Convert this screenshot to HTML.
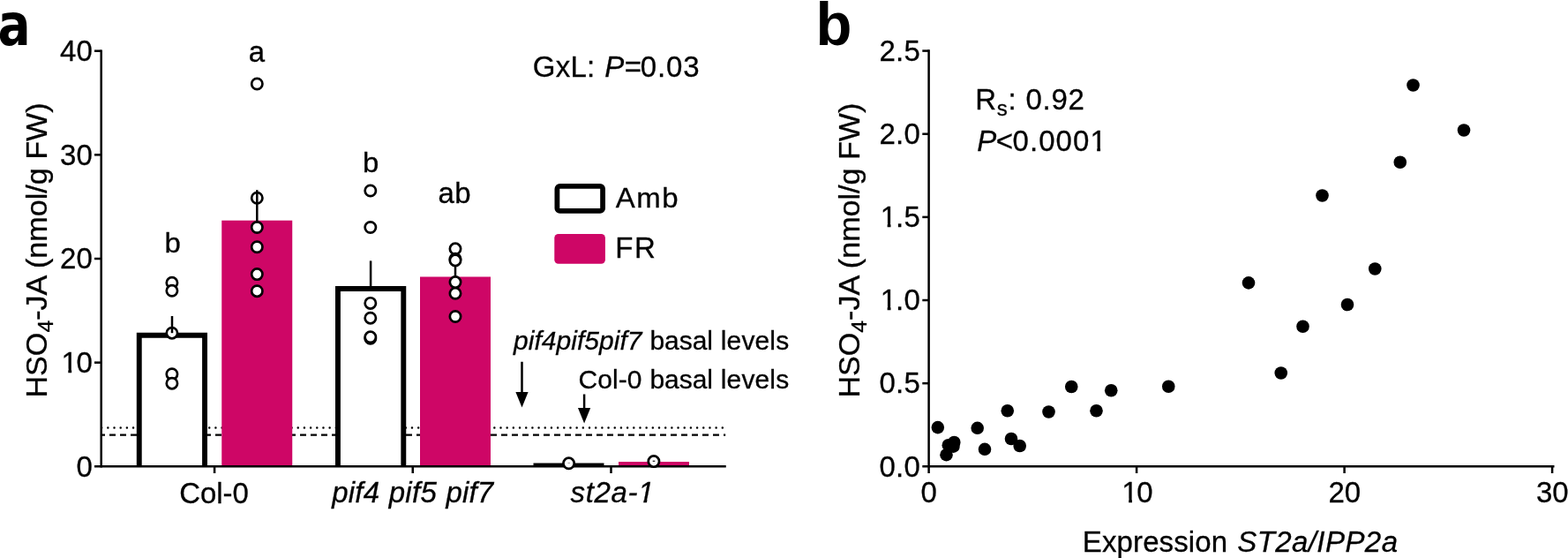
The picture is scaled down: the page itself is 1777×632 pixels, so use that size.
<!DOCTYPE html>
<html lang="en"><head><meta charset="utf-8"><title>HSO4-JA figure</title>
<style>
html,body{margin:0;padding:0;background:#fff;}
body{width:1777px;height:632px;overflow:hidden;}
svg{display:block;}
text{font-family:"Liberation Sans",sans-serif;fill:#000;stroke:#000;stroke-width:0.3px;}
.i{font-style:italic;}
.b{font-weight:bold;stroke:none;}
.b2{font-family:"DejaVu Sans Condensed","DejaVu Sans",sans-serif;font-weight:bold;stroke:none;}
.ax{stroke:#000;stroke-width:2.5;fill:none;}
.pt{fill:#fff;stroke:#000;stroke-width:2.7;}
.dot{fill:#000;}
</style></head><body>
<svg width="1777" height="632" viewBox="0 0 1777 632">
<rect width="1777" height="632" fill="#fff"/>
<line x1="115.16" y1="484.4" x2="819.5" y2="484.4" stroke="#000" stroke-width="2.5" stroke-linecap="round" stroke-dasharray="0.01 7.17"/>
<line x1="114.7" y1="492.6" x2="822.2" y2="492.6" stroke="#000" stroke-width="2.4" stroke-dasharray="7 5" stroke-dashoffset="2.7"/>
<path d="M157.75 528.3 V379.7 H232.05 V528.3" fill="#fff" stroke="#000" stroke-width="5.9" stroke-linejoin="miter"/>
<rect x="251.25" y="249.7" width="80.0" height="278.6" fill="#ce0666"/>
<path d="M382.95 528.3 V326.95 H457.3 V528.3" fill="#fff" stroke="#000" stroke-width="5.9" stroke-linejoin="miter"/>
<rect x="476" y="313.5" width="80" height="214.8" fill="#ce0666"/>
<rect x="604.5" y="524.5" width="80" height="3" fill="#000"/>
<rect x="701" y="523" width="80" height="4.5" fill="#ce0666"/>
<path d="M114.7 56.45 V529.55" class="ax"/>
<path d="M107 528.3 H822.75" class="ax"/>
<path d="M107 410.65 H114.7" class="ax" stroke-width="2.1"/>
<path d="M107 293.0 H114.7" class="ax" stroke-width="2.1"/>
<path d="M107 175.35 H114.7" class="ax" stroke-width="2.1"/>
<path d="M107 57.7 H114.7" class="ax" stroke-width="2.1"/>
<path d="M243.1 528.3 V536" class="ax" stroke-width="2.1"/>
<path d="M467.75 528.3 V536" class="ax" stroke-width="2.1"/>
<path d="M692.5 528.3 V536" class="ax" stroke-width="2.1"/>
<text transform="translate(104.8 539.55) scale(1 0.985)" font-size="33" text-anchor="end">0</text>
<text transform="translate(104.8 421.9) scale(1 0.985)" font-size="33" text-anchor="end"><tspan letter-spacing="-1.4">1</tspan>0</text>
<polygon transform="translate(104.8 421.9) scale(1 0.985)" points="-34.3,2.5 -34.3,-4.28 -27.48,-4.28 -27.48,2.5" fill="#fff"/>
<polygon transform="translate(104.8 421.9) scale(1 0.985)" points="-23.64,2.5 -23.64,-4.28 -17.08,-4.28 -17.08,2.5" fill="#fff"/>
<text transform="translate(104.8 304.25) scale(1 0.985)" font-size="33" text-anchor="end">20</text>
<text transform="translate(104.8 186.6) scale(1 0.985)" font-size="33" text-anchor="end">30</text>
<text transform="translate(104.8 68.95) scale(1 0.985)" font-size="33" text-anchor="end">40</text>
<circle cx="194.9" cy="320.3" r="6.15" class="pt"/>
<circle cx="194.9" cy="329.3" r="6.15" class="pt"/>
<circle cx="194.9" cy="377.2" r="6.15" class="pt"/>
<circle cx="194.9" cy="423.7" r="6.15" class="pt"/>
<circle cx="194.9" cy="434.2" r="6.15" class="pt"/>
<circle cx="291.3" cy="95" r="6.15" class="pt"/>
<circle cx="291.3" cy="224.25" r="6.15" class="pt"/>
<circle cx="291.3" cy="257.5" r="6.15" class="pt"/>
<circle cx="291.3" cy="279.75" r="6.15" class="pt"/>
<circle cx="291.3" cy="310.6" r="6.15" class="pt"/>
<circle cx="291.3" cy="329.7" r="6.15" class="pt"/>
<circle cx="419.8" cy="216" r="6.15" class="pt"/>
<circle cx="419.8" cy="257.5" r="6.15" class="pt"/>
<circle cx="419.8" cy="343.4" r="6.15" class="pt"/>
<circle cx="419.8" cy="360.2" r="6.15" class="pt"/>
<circle cx="419.8" cy="383.3" r="6.15" class="pt"/>
<circle cx="419.8" cy="381.8" r="6.15" class="pt"/>
<circle cx="516" cy="281.8" r="6.15" class="pt"/>
<circle cx="516" cy="293.3" r="6.15" class="pt"/>
<circle cx="516" cy="294.9" r="6.15" class="pt"/>
<circle cx="516" cy="319.6" r="6.15" class="pt"/>
<circle cx="516" cy="332.3" r="6.15" class="pt"/>
<circle cx="516" cy="358.5" r="6.15" class="pt"/>
<circle cx="644.6" cy="524.8" r="6.15" class="pt"/>
<circle cx="740.9" cy="522.6" r="6.15" class="pt"/>
<line x1="195" y1="358" x2="195" y2="377.2" class="ax" stroke-width="2.7"/>
<line x1="291.3" y1="215.2" x2="291.3" y2="250" class="ax" stroke-width="2.7"/>
<line x1="420.1" y1="295.4" x2="420.1" y2="325" class="ax" stroke-width="2.7"/>
<line x1="516" y1="301.5" x2="516" y2="314" class="ax" stroke-width="2.7"/>
<rect x="739.7" y="521.7" width="2.6" height="1.1" fill="#000"/>
<rect x="643.4" y="523.9" width="2.6" height="0.9" fill="#999"/>
<text transform="translate(186.62 286.43) scale(1 0.9742)" font-size="33" text-anchor="start">b</text>
<text transform="translate(281.64 70.16) scale(1 1.0181)" font-size="33" text-anchor="start">a</text>
<text transform="translate(411.12 194.78) scale(1 0.9726)" font-size="33" text-anchor="start">b</text>
<text transform="translate(496.5 229.52) scale(1 0.9828)" font-size="33" text-anchor="start" letter-spacing="0.5">ab</text>
<text transform="translate(203.25 569.76) scale(1 1.009)" font-size="33" text-anchor="start" letter-spacing="-0.042">Col-0</text>
<text transform="translate(0 568.88) scale(1 0.9892)" font-size="33"><tspan x="376.2" class="i" letter-spacing="0.233">pif4 </tspan><tspan x="440.7" class="i" letter-spacing="0.317">pif5 </tspan><tspan x="505.45" class="i" letter-spacing="0.13">pif7</tspan></text>
<text transform="translate(646.5 568.7) scale(1 1.0323)" font-size="33" text-anchor="start" class="i" letter-spacing="0.65">st2a-1</text>
<polygon transform="translate(646.5 568.7) scale(1 1.0323)" points="75.44,2.5 76.75,-4.28 83.59,-4.28 82.28,2.5" fill="#fff"/>
<polygon transform="translate(646.5 568.7) scale(1 1.0323)" points="86.07,2.5 87.38,-4.28 93.97,-4.28 92.66,2.5" fill="#fff"/>
<text transform="translate(53 283.5) scale(1 1.034) rotate(-90)" font-size="33" text-anchor="middle" letter-spacing="0">HSO<tspan font-size="24" dy="7.3">4</tspan><tspan dy="-7.3">-JA (nmol/g FW)</tspan></text>
<text transform="translate(0 87.1) scale(1 1.034)" font-size="33"><tspan x="603.8" letter-spacing="0.28">GxL: </tspan><tspan x="685.28" class="i" letter-spacing="0">P</tspan><tspan x="707.65" letter-spacing="0">=</tspan><tspan x="725.7" letter-spacing="0.866">0.03</tspan></text>
<rect x="631.4" y="210.9" width="51.7" height="28" rx="3" ry="3" fill="#fff" stroke="#000" stroke-width="5.8"/>
<rect x="628.3" y="265" width="57.6" height="33.75" rx="4.5" ry="4.5" fill="#ce0666"/>
<text transform="translate(697.85 235.33) scale(1 0.9566)" font-size="33" text-anchor="start" letter-spacing="1.5">Amb</text>
<text transform="translate(697.25 291.9) scale(1 1.0296)" font-size="33" text-anchor="start" letter-spacing="1.5">FR</text>
<text transform="translate(0 396.32) scale(1 0.9695)" font-size="30"><tspan x="582.0" class="i" letter-spacing="0.043">pif4pif5pif7 </tspan><tspan x="736.4" letter-spacing="-0.016">basal </tspan><tspan x="816.8" letter-spacing="0.14">levels</tspan></text>
<text transform="translate(0 440.12) scale(1 0.9827)" font-size="30"><tspan x="655.6" letter-spacing="0.029">Col-0 </tspan><tspan x="736.4" letter-spacing="-0.016">basal </tspan><tspan x="816.8" letter-spacing="0.14">levels</tspan></text>
<path d="M591.5 409.75 V451.5" class="ax"/>
<path d="M584.4 444.0 H598.6 L591.5 461.5 Z" fill="#000"/>
<path d="M662.1 446.5 V469.4" class="ax"/>
<path d="M655.0 461.9 H669.2 L662.1 479.4 Z" fill="#000"/>
<text transform="translate(-2.4 51.2) scale(0.94 1.0)" font-size="65" text-anchor="start" class="b2">a</text>
<path d="M1052.6 56.35 V536" class="ax"/>
<path d="M1045.3 528.3 H1761.5" class="ax"/>
<path d="M1045.3 434.16 H1052.6" class="ax" stroke-width="2.1"/>
<path d="M1045.3 340.02 H1052.6" class="ax" stroke-width="2.1"/>
<path d="M1045.3 245.88 H1052.6" class="ax" stroke-width="2.1"/>
<path d="M1045.3 151.74 H1052.6" class="ax" stroke-width="2.1"/>
<path d="M1045.3 57.6 H1052.6" class="ax" stroke-width="2.1"/>
<path d="M1288.1 528.3 V536" class="ax" stroke-width="2.1"/>
<path d="M1523.6 528.3 V536" class="ax" stroke-width="2.1"/>
<path d="M1759.1 528.3 V536" class="ax" stroke-width="2.1"/>
<text transform="translate(1043.2 539.55) scale(1 0.985)" font-size="33" text-anchor="end" letter-spacing="0.3">0.0</text>
<text transform="translate(1043.2 445.41) scale(1 0.985)" font-size="33" text-anchor="end" letter-spacing="0.3">0.5</text>
<text transform="translate(1043.2 351.27) scale(1 0.985)" font-size="33" text-anchor="end" letter-spacing="0.3"><tspan letter-spacing="-1.1">1</tspan>.0</text>
<polygon transform="translate(1043.2 351.27) scale(1 0.985)" points="-44.38,2.5 -44.38,-4.28 -37.55,-4.28 -37.55,2.5" fill="#fff"/>
<polygon transform="translate(1043.2 351.27) scale(1 0.985)" points="-33.72,2.5 -33.72,-4.28 -27.15,-4.28 -27.15,2.5" fill="#fff"/>
<text transform="translate(1043.2 257.13) scale(1 0.985)" font-size="33" text-anchor="end" letter-spacing="0.3"><tspan letter-spacing="-1.1">1</tspan>.5</text>
<polygon transform="translate(1043.2 257.13) scale(1 0.985)" points="-44.38,2.5 -44.38,-4.28 -37.55,-4.28 -37.55,2.5" fill="#fff"/>
<polygon transform="translate(1043.2 257.13) scale(1 0.985)" points="-33.72,2.5 -33.72,-4.28 -27.15,-4.28 -27.15,2.5" fill="#fff"/>
<text transform="translate(1043.2 162.99) scale(1 0.985)" font-size="33" text-anchor="end" letter-spacing="0.3">2.0</text>
<text transform="translate(1043.2 68.85) scale(1 0.985)" font-size="33" text-anchor="end" letter-spacing="0.3">2.5</text>
<text transform="translate(1052.8 568.8) scale(1 0.985)" font-size="33" text-anchor="middle">0</text>
<text transform="translate(1289.0 568.8) scale(1 0.985)" font-size="33" text-anchor="middle"><tspan letter-spacing="-1.4">1</tspan>0</text>
<polygon transform="translate(1289.0 568.8) scale(1 0.985)" points="-16.65,2.5 -16.65,-4.28 -9.82,-4.28 -9.82,2.5" fill="#fff"/>
<polygon transform="translate(1289.0 568.8) scale(1 0.985)" points="-5.99,2.5 -5.99,-4.28 0.58,-4.28 0.58,2.5" fill="#fff"/>
<text transform="translate(1523.8 568.8) scale(1 0.985)" font-size="33" text-anchor="middle">20</text>
<text transform="translate(1759.3 568.8) scale(1 0.985)" font-size="33" text-anchor="middle">30</text>
<circle cx="1214.25" cy="438" r="7.3" class="dot"/>
<circle cx="1259.25" cy="442.25" r="7.3" class="dot"/>
<circle cx="1324.25" cy="437.75" r="7.3" class="dot"/>
<circle cx="1141.75" cy="465.25" r="7.3" class="dot"/>
<circle cx="1188.5" cy="466.5" r="7.3" class="dot"/>
<circle cx="1242.5" cy="465.25" r="7.3" class="dot"/>
<circle cx="1062.8" cy="484.1" r="7.3" class="dot"/>
<circle cx="1107.7" cy="484.8" r="7.3" class="dot"/>
<circle cx="1081.3" cy="501" r="7.3" class="dot"/>
<circle cx="1074.8" cy="504.2" r="7.3" class="dot"/>
<circle cx="1080.4" cy="505.7" r="7.3" class="dot"/>
<circle cx="1072.5" cy="515.2" r="7.3" class="dot"/>
<circle cx="1116" cy="508.8" r="7.3" class="dot"/>
<circle cx="1146" cy="497" r="7.3" class="dot"/>
<circle cx="1155.7" cy="505" r="7.3" class="dot"/>
<circle cx="1601.5" cy="96.5" r="7.3" class="dot"/>
<circle cx="1659" cy="147.5" r="7.3" class="dot"/>
<circle cx="1586.75" cy="183.75" r="7.3" class="dot"/>
<circle cx="1498.5" cy="221.5" r="7.3" class="dot"/>
<circle cx="1558.25" cy="304.5" r="7.3" class="dot"/>
<circle cx="1415" cy="320.4" r="7.3" class="dot"/>
<circle cx="1527" cy="345" r="7.3" class="dot"/>
<circle cx="1476.5" cy="369.75" r="7.3" class="dot"/>
<circle cx="1451.75" cy="422.5" r="7.3" class="dot"/>
<text transform="translate(974.4 283.6) scale(1 1.034) rotate(-90)" font-size="33" text-anchor="middle" letter-spacing="0">HSO<tspan font-size="24" dy="7.3">4</tspan><tspan dy="-7.3">-JA (nmol/g FW)</tspan></text>
<text transform="translate(0 123.69) scale(1 0.9977)" font-size="33"><tspan x="1105.34" letter-spacing="0">R</tspan><tspan x="1129.75" letter-spacing="0" font-size="24" dy="7">s</tspan><tspan x="1142.38" letter-spacing="0" dy="-7">: </tspan><tspan x="1162.55" letter-spacing="0.717">0.92</tspan></text>
<text transform="translate(0 171.41) scale(1 1.0045)" font-size="33"><tspan x="1107.25" class="i" letter-spacing="0">P</tspan><tspan x="1128.79" letter-spacing="0">&lt;</tspan><tspan x="1147.5" letter-spacing="1.07">0.0001</tspan></text>
<polygon transform="translate(0 171.41) scale(1 1.0045)" points="1236.4,2.5 1236.4,-4.28 1243.23,-4.28 1243.23,2.5" fill="#fff"/>
<polygon transform="translate(0 171.41) scale(1 1.0045)" points="1247.07,2.5 1247.07,-4.28 1253.63,-4.28 1253.63,2.5" fill="#fff"/>
<text transform="translate(0 624.7) scale(1 1.0)" font-size="33"><tspan x="1226.85" letter-spacing="0.108">Expression </tspan><tspan x="1402.2" class="i" letter-spacing="0.428">ST2a/IPP2a</tspan></text>
<text transform="translate(924.4 50.6) scale(1 1.03)" font-size="67" text-anchor="start" class="b">b</text>
</svg></body></html>
